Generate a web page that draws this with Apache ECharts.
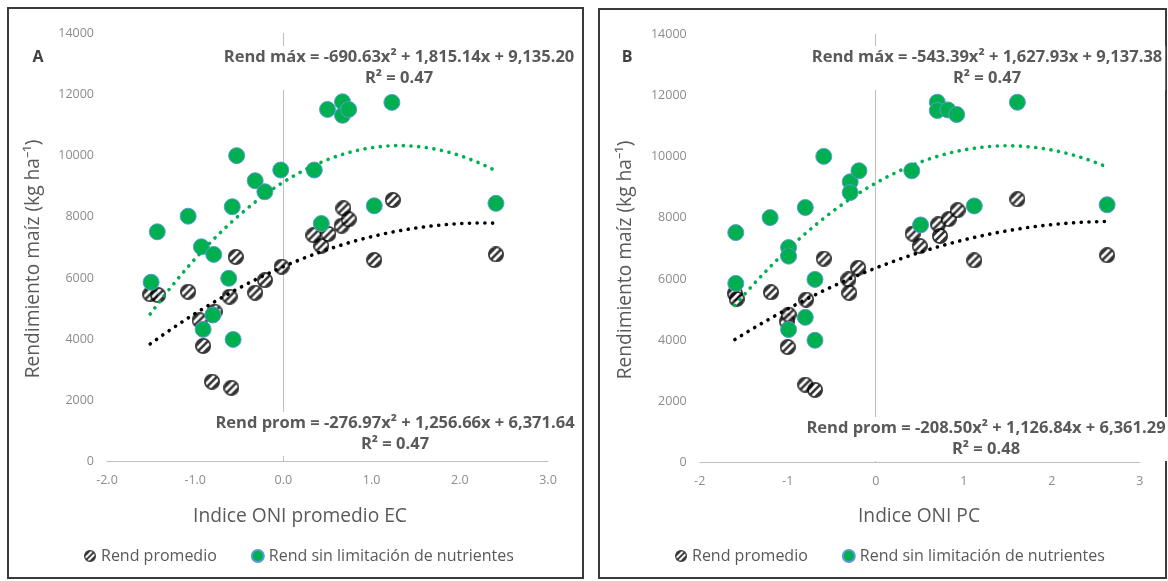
<!DOCTYPE html>
<html>
<head>
<meta charset="utf-8">
<script src="https://cdn.jsdelivr.net/npm/echarts@6/dist/echarts.min.js"></script>
<style>
  html, body { margin: 0; padding: 0; background: #fff; }
  #chart { width: 1168px; height: 581px; }
</style>
</head>
<body>
<div id="chart"></div>
<script>
// ---- Panel A: ONI promedio EC ----
const promA = [
  [-1.51, 5470], [-1.42, 5440], [-1.08, 5550], [-0.95, 4620], [-0.91, 3780],
  [-0.81, 2610], [-0.78, 4900], [-0.61, 5390], [-0.59, 2410], [-0.54, 6690],
  [-0.32, 5520], [-0.21, 5930], [-0.02, 6370], [0.34, 7400], [0.43, 7050],
  [0.51, 7440], [0.66, 7710], [0.68, 8280], [0.74, 7920], [1.03, 6590],
  [1.24, 8550], [2.41, 6770]
];
const maxA = [
  [-1.50, 5860], [-1.43, 7510], [-1.08, 8020], [-0.93, 7020], [-0.91, 4320],
  [-0.80, 4790], [-0.79, 6770], [-0.62, 5990], [-0.58, 8330], [-0.57, 3990],
  [-0.53, 10000], [-0.32, 9180], [-0.21, 8820], [-0.03, 9530], [0.35, 9530],
  [0.43, 7780], [0.50, 11510], [0.67, 11760], [0.67, 11320], [0.74, 11510],
  [1.03, 8360], [1.23, 11740], [2.41, 8440]
];
// quadratic trend coefficients [a, b, c] for y = a x^2 + b x + c
const fitMaxA = [-690.63, 1815.14, 9135.20];
const fitPromA = [-276.97, 1256.66, 6371.64];
const fitRangeA = [-1.51, 2.41];

// ---- Panel B: ONI PC ----
const promB = [
  [-1.60, 5530], [-1.58, 5350], [-1.19, 5570], [-1.01, 4620], [-1.00, 3780],
  [-0.99, 4840], [-0.80, 2550], [-0.79, 5330], [-0.69, 2380], [-0.59, 6670],
  [-0.31, 5990], [-0.30, 5550], [-0.20, 6370], [0.42, 7490], [0.50, 7080],
  [0.71, 7790], [0.73, 7410], [0.83, 7960], [0.93, 8250], [1.12, 6610],
  [1.61, 8610], [2.63, 6780]
];
const maxB = [
  [-1.59, 5860], [-1.59, 7520], [-1.20, 8010], [-0.99, 7030], [-0.99, 6750],
  [-0.99, 4350], [-0.80, 8340], [-0.80, 4750], [-0.69, 5990], [-0.69, 4000],
  [-0.59, 10010], [-0.29, 9180], [-0.29, 8830], [-0.19, 9540], [0.41, 9540],
  [0.51, 7770], [0.70, 11780], [0.70, 11510], [0.82, 11530], [0.92, 11380],
  [1.12, 8390], [1.61, 11780], [2.63, 8430]
];
const fitMaxB = [-543.39, 1627.93, 9137.38];
const fitPromB = [-208.50, 1126.84, 6361.29];
const fitRangeB = [-1.60, 2.63];

// ---- Axis ticks and texts ----
const xTicksA = ['-2.0', '-1.0', '0.0', '1.0', '2.0', '3.0'];
const xTicksB = ['-2', '-1', '0', '1', '2', '3'];
const yTicks = ['0', '2000', '4000', '6000', '8000', '10000', '12000', '14000'];
const nameProm = 'Rend promedio';
const nameMax = 'Rend sin limitación de nutrientes';
const eqMaxA = 'Rend máx = -690.63x² + 1,815.14x + 9,135.20\nR² = 0.47';
const eqPromA = 'Rend prom = -276.97x² + 1,256.66x + 6,371.64\nR² = 0.47';
const eqMaxB = 'Rend máx = -543.39x² + 1,627.93x + 9,137.38\nR² = 0.47';
const eqPromB = 'Rend prom = -208.50x² + 1,126.84x + 6,361.29\nR² = 0.48';
const yTitle = 'Rendimiento maíz (kg ha⁻¹)';
const xTitleA = 'Indice ONI promedio EC';
const xTitleB = 'Indice ONI PC';

const FONT = '"Open Sans", sans-serif';
const GREEN = '#00b050';

// White circle with black diagonal stripes and a black rim, as an image symbol
function hatchedCircle(px) {
  const k = 4, d = px * k;
  const c = document.createElement('canvas');
  c.width = d; c.height = d;
  const g = c.getContext('2d');
  const r = d / 2 - 0.9 * k;
  g.save();
  g.beginPath();
  g.arc(d / 2, d / 2, r, 0, Math.PI * 2);
  g.fillStyle = '#fff';
  g.fill();
  g.clip();
  g.strokeStyle = '#000';
  g.lineWidth = 2.5 * k;
  const gap = 5.2 * k * Math.SQRT2;
  for (let t = -Math.ceil(d / gap) * gap; t <= d; t += gap) {
    g.beginPath();
    g.moveTo(t, d);
    g.lineTo(t + d, 0);
    g.stroke();
  }
  g.restore();
  g.beginPath();
  g.arc(d / 2, d / 2, r, 0, Math.PI * 2);
  g.lineWidth = 1.7 * k;
  g.strokeStyle = '#000';
  g.stroke();
  return 'image://' + c.toDataURL();
}
const hatchSymbol = hatchedCircle(16);

function trend(coef, range) {
  const pts = [];
  const n = 80;
  for (let i = 0; i <= n; i++) {
    const x = range[0] + (range[1] - range[0]) * i / n;
    pts.push([x, coef[0] * x * x + coef[1] * x + coef[2]]);
  }
  return pts;
}

function xAxis(idx, ticks) {
  return {
    type: 'value', gridIndex: idx, min: -2, max: 3, interval: 1,
    axisLine: { show: true, lineStyle: { color: '#bfbfbf', width: 1 } },
    axisTick: { show: false },
    splitLine: { show: false },
    axisLabel: {
      color: '#8c8c8c', fontFamily: FONT, fontSize: 12.5, margin: 12,
      formatter: v => ticks[Math.round(v) + 2]
    }
  };
}
function yAxis(idx) {
  return {
    type: 'value', gridIndex: idx, min: 0, max: 14000, interval: 2000,
    axisLine: { show: true, onZero: true, lineStyle: { color: '#bfbfbf', width: 1 } },
    axisTick: { show: false },
    splitLine: { show: false },
    axisLabel: {
      color: '#8c8c8c', fontFamily: FONT, fontSize: 12.5, margin: 13,
      formatter: v => yTicks[Math.round(v / 2000)]
    }
  };
}
function scatterProm(idx, data) {
  return {
    name: nameProm, type: 'scatter', xAxisIndex: idx, yAxisIndex: idx,
    data, symbol: hatchSymbol, symbolSize: 16, z: 2
  };
}
function scatterMax(idx, data) {
  return {
    name: nameMax, type: 'scatter', xAxisIndex: idx, yAxisIndex: idx,
    data, symbol: 'circle', symbolSize: 16, z: 3,
    itemStyle: { color: GREEN, borderColor: '#5b9bd5', borderWidth: 1, opacity: 1 }
  };
}
function trendLine(idx, coef, range, color) {
  return {
    type: 'line', xAxisIndex: idx, yAxisIndex: idx, data: trend(coef, range),
    showSymbol: false, symbol: 'none', silent: true, z: 4,
    lineStyle: { color, width: 3.6, type: [0.1, 7.6], cap: 'round' }
  };
}
function text(x, y, str, opts, extra) {
  return Object.assign({
    type: 'text', x, y, z: 20, silent: true,
    style: Object.assign({
      text: str, font: '16px ' + FONT, fill: '#595959',
      align: 'center', verticalAlign: 'middle'
    }, opts || {})
  }, extra || {});
}
function eqLabel(x, y, str) {
  return text(x, y, str, {
    font: 'bold 16.5px ' + FONT, fill: '#595959', lineHeight: 21,
    verticalAlign: 'top', backgroundColor: '#fff', padding: [1, 3]
  });
}
function legend(left) {
  return {
    left, top: 543, itemWidth: 12, itemHeight: 12, itemGap: 34,
    data: [{ name: nameProm, icon: hatchSymbol }, { name: nameMax, icon: 'circle' }],
    textStyle: { color: '#595959', fontFamily: FONT, fontSize: 16 }
  };
}

const chart = echarts.init(document.getElementById('chart'), null, { renderer: 'canvas' });
chart.setOption({
  animation: false,
  backgroundColor: '#fff',
  grid: [
    { left: 107, top: 33.3, width: 441, height: 428.2 },
    { left: 699.7, top: 34.3, width: 440, height: 428.4 }
  ],
  xAxis: [xAxis(0, xTicksA), xAxis(1, xTicksB)],
  yAxis: [yAxis(0), yAxis(1)],
  legend: [legend(79), legend(670)],
  series: [
    scatterProm(0, promA), scatterMax(0, maxA),
    trendLine(0, fitPromA, fitRangeA, '#000'), trendLine(0, fitMaxA, fitRangeA, GREEN),
    scatterProm(1, promB), scatterMax(1, maxB),
    trendLine(1, fitPromB, fitRangeB, '#000'), trendLine(1, fitMaxB, fitRangeB, GREEN)
  ],
  graphic: [
    { type: 'rect', shape: { x: 8, y: 8, width: 575, height: 570 }, z: 0,
      style: { fill: 'none', stroke: '#3a3a3a', lineWidth: 2 } },
    { type: 'rect', shape: { x: 599, y: 9, width: 567, height: 569 }, z: 0,
      style: { fill: 'none', stroke: '#3a3a3a', lineWidth: 2 } },
    text(38, 57, 'A', { font: 'bold 16px ' + FONT, fill: '#404040' }),
    text(627, 57, 'B', { font: 'bold 16px ' + FONT, fill: '#404040' }),
    eqLabel(399, 46, eqMaxA),
    eqLabel(395, 412, eqPromA),
    eqLabel(987, 46, eqMaxB),
    eqLabel(986, 417, eqPromB),
    text(300, 517, xTitleA, { font: '19.2px ' + FONT }),
    text(919, 517, xTitleB, { font: '19.2px ' + FONT }),
    text(34, 259, yTitle, { font: '19.2px ' + FONT }, { rotation: Math.PI / 2 }),
    text(626, 260, yTitle, { font: '19.2px ' + FONT }, { rotation: Math.PI / 2 })
  ]
});
</script>
</body>
</html>
